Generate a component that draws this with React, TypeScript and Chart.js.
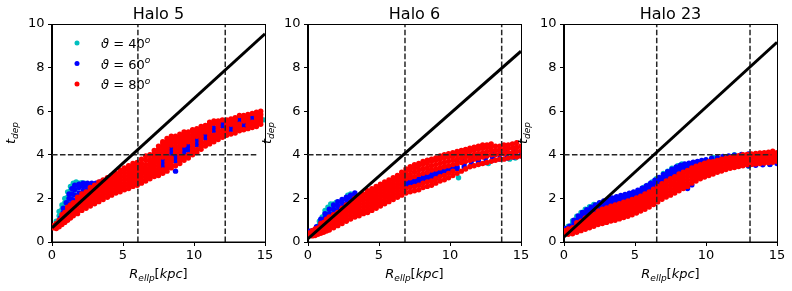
import React, { useEffect, useRef } from 'react';
import { Chart, registerables } from 'chart.js';
Chart.register(...registerables);

type Col = [number, number[]];

const panelTitles = ['Halo 5', 'Halo 6', 'Halo 23'];
const seriesAngles = ['40', '60', '80'];
const seriesColors = ['#00bfbf', '#0000ff', '#ff0000'];
const xTickStep = 5;
const yTickStep = 2;

// ---------- Halo 5 ----------
const halo5Cyan: Col[] = [
  [0.3, [0.8, 0.95]], [0.5, [1.0, 1.2, 1.4]], [0.7, [1.3, 1.5, 1.7]], [0.9, [1.6, 1.8, 2.0]],
  [1.1, [1.8, 2.05, 2.3]], [1.3, [2.1, 2.35, 2.55]], [1.5, [2.3, 2.5, 2.7]], [1.7, [2.45, 2.65, 2.75]],
  [1.9, [2.55, 2.7]], [2.1, [2.6, 2.72]], [2.3, [2.65, 2.7]],
  [9.3, [4.0]], [10.3, [4.3]], [11.6, [4.9]], [12.4, [5.0]], [13.4, [5.3]], [14.6, [5.5]], [14.9, [5.6]],
];
const halo5Blue: Col[] = [
  [0.6, [0.9, 1.1]], [0.8, [1.1, 1.35, 1.55]], [1.0, [1.3, 1.55, 1.8]], [1.2, [1.5, 1.75, 2.0, 2.2]],
  [1.4, [1.7, 1.95, 2.2, 2.45]], [1.6, [1.9, 2.15, 2.4, 2.6]], [1.9, [2.0, 2.25, 2.5, 2.65]],
  [2.2, [2.1, 2.35, 2.55, 2.7]], [2.5, [2.2, 2.45, 2.6, 2.7]], [2.8, [2.3, 2.5, 2.65, 2.7]],
  [3.1, [2.4, 2.55, 2.7]], [3.4, [2.5, 2.65, 2.75]], [3.7, [2.6, 2.8]],
  [5.6, [3.1]], [6.4, [3.3]],
  [7.8, [3.45, 3.6, 3.75]], [8.4, [4.0, 4.15, 4.3]], [8.7, [3.25, 3.7, 3.85, 3.95]],
  [9.3, [4.05, 4.2, 4.3]], [9.6, [4.2, 4.35, 4.45]], [10.2, [4.45, 4.6, 4.7]], [10.8, [4.75, 4.9]],
  [11.4, [5.1, 5.25]], [12.0, [5.3, 5.45]], [12.6, [5.15, 5.3]], [13.2, [5.55, 5.7]],
  [13.5, [5.3, 5.42]], [14.1, [5.6, 5.75]],
];
const halo5Red: Col[] = [
  [0.1, [0.65, 0.75]], [0.3, [0.62, 0.75, 0.85]], [0.5, [0.7, 0.85, 1.0]], [0.7, [0.8, 0.95, 1.1, 1.25]],
  [0.9, [0.9, 1.05, 1.2, 1.35]], [1.1, [1.0, 1.15, 1.3, 1.45, 1.6]], [1.3, [1.1, 1.25, 1.4, 1.55, 1.7]],
  [1.5, [1.2, 1.35, 1.5, 1.65, 1.8]], [1.8, [1.3, 1.45, 1.6, 1.75, 1.9, 2.05]],
  [2.1, [1.45, 1.6, 1.75, 1.9, 2.05, 2.2]], [2.4, [1.55, 1.7, 1.85, 2.0, 2.15, 2.3]],
  [2.7, [1.65, 1.8, 1.95, 2.1, 2.25, 2.4, 2.5]], [3.0, [1.75, 1.9, 2.05, 2.2, 2.35, 2.5, 2.6]],
  [3.3, [1.85, 2.0, 2.15, 2.3, 2.45, 2.6, 2.75]], [3.6, [1.95, 2.1, 2.25, 2.4, 2.55, 2.7, 2.85]],
  [3.9, [2.05, 2.2, 2.35, 2.5, 2.65, 2.8, 2.95]], [4.2, [2.15, 2.3, 2.45, 2.6, 2.75, 2.9, 3.05]],
  [4.5, [2.25, 2.4, 2.55, 2.7, 2.85, 3.0, 3.15]], [4.8, [2.3, 2.45, 2.6, 2.75, 2.9, 3.05, 3.2, 3.3]],
  [5.1, [2.4, 2.55, 2.7, 2.85, 3.0, 3.15, 3.3, 3.4]], [5.4, [2.45, 2.6, 2.75, 2.9, 3.05, 3.2, 3.35, 3.5]],
  [5.7, [2.55, 2.7, 2.85, 3.0, 3.15, 3.3, 3.45, 3.6]], [6.0, [2.6, 2.75, 2.9, 3.05, 3.2, 3.35, 3.5, 3.65]],
  [6.3, [2.7, 2.85, 3.0, 3.15, 3.3, 3.45, 3.6, 3.8]], [6.6, [2.8, 2.95, 3.1, 3.25, 3.4, 3.55, 3.75, 3.95]],
  [6.9, [2.9, 3.05, 3.2, 3.35, 3.5, 3.65, 3.8, 4.0]], [7.2, [3.0, 3.15, 3.3, 3.45, 3.6, 3.75, 3.9, 4.05, 4.2]],
  [7.5, [3.05, 3.2, 3.35, 3.5, 3.65, 3.8, 3.95, 4.1, 4.25, 4.4]],
  [7.8, [3.15, 3.3, 3.9, 4.05, 4.2, 4.35, 4.5, 4.6]],
  [8.1, [3.25, 3.4, 3.55, 3.7, 3.85, 4.0, 4.15, 4.3, 4.45, 4.6, 4.75]],
  [8.4, [3.4, 3.55, 3.7, 3.85, 4.45, 4.6, 4.75, 4.85]],
  [8.7, [3.5, 4.1, 4.25, 4.4, 4.55, 4.7, 4.85]],
  [9.0, [3.6, 3.75, 3.9, 4.05, 4.2, 4.35, 4.5, 4.65, 4.8, 4.95]],
  [9.3, [3.75, 3.9, 4.45, 4.6, 4.75, 4.9, 5.05]], [9.6, [3.85, 4.0, 4.6, 4.75, 4.9, 5.05]],
  [9.9, [4.0, 4.15, 4.3, 4.45, 4.6, 4.75, 4.9, 5.05, 5.15]], [10.2, [4.1, 4.25, 4.85, 5.0, 5.1, 5.2]],
  [10.5, [4.25, 4.4, 4.55, 4.7, 4.85, 5.0, 5.15, 5.3]], [10.8, [4.4, 4.55, 5.05, 5.2, 5.35]],
  [11.1, [4.5, 4.65, 4.8, 4.95, 5.1, 5.25, 5.4, 5.5]], [11.4, [4.6, 4.75, 4.9, 5.45, 5.55]],
  [11.7, [4.7, 4.85, 5.0, 5.15, 5.3, 5.45, 5.55]], [12.0, [4.8, 4.95, 5.1, 5.6]],
  [12.3, [4.9, 5.05, 5.2, 5.35, 5.5, 5.6]], [12.6, [4.95, 5.4, 5.55, 5.65]],
  [12.9, [5.0, 5.15, 5.3, 5.45, 5.6, 5.7]], [13.2, [5.1, 5.25, 5.4, 5.8]],
  [13.5, [5.15, 5.55, 5.7, 5.8]], [13.8, [5.2, 5.35, 5.5, 5.65, 5.8, 5.85]],
  [14.1, [5.25, 5.4, 5.5, 5.9]], [14.4, [5.3, 5.45, 5.6, 5.75, 5.9, 5.95]],
  [14.7, [5.4, 5.55, 5.7, 5.85, 6.0]],
];
const halo5Fit = [[0, 0.65], [15, 9.55]];
const halo5VLines = [6.05, 12.2];
const halo5HLineEnd = 14.5;

// ---------- Halo 6 ----------
const halo6Cyan: Col[] = [
  [0.8, [0.8, 0.95]], [1.0, [0.95, 1.15]], [1.2, [1.1, 1.3, 1.45]], [1.4, [1.25, 1.45, 1.6]],
  [1.6, [1.4, 1.6, 1.75]], [1.8, [1.55, 1.75]], [2.0, [1.65, 1.82]], [2.8, [2.0, 2.15]], [3.0, [2.1, 2.2]],
  [9.2, [3.0]], [10.6, [2.95]], [12.7, [3.6]], [14.2, [3.8]], [14.6, [3.85]],
];
const halo6Blue: Col[] = [
  [0.1, [0.35, 0.5]], [0.3, [0.4, 0.52]], [0.6, [0.55, 0.7]], [0.9, [0.75, 0.9, 1.05]],
  [1.2, [0.9, 1.1, 1.3]], [1.5, [1.1, 1.3, 1.5]], [1.8, [1.3, 1.5, 1.7]], [2.1, [1.45, 1.65, 1.85]],
  [2.4, [1.6, 1.8, 1.95]], [2.7, [1.75, 1.95, 2.05]], [3.0, [1.85, 2.05, 2.15]], [3.3, [1.95, 2.15, 2.25]],
  [6.9, [2.6, 2.75]], [7.2, [2.65, 2.8]], [7.5, [2.7, 2.85]], [7.8, [2.75, 2.9]], [8.1, [2.85, 3.0]],
  [8.4, [2.9, 3.05]], [8.7, [2.95, 3.1]], [9.0, [3.05, 3.2]], [9.3, [3.1, 3.25]], [9.6, [3.2, 3.3]],
  [9.9, [3.25, 3.4]], [10.2, [3.35, 3.45]], [10.5, [3.35, 3.45, 3.7]], [11.0, [3.45, 3.6, 3.8]],
  [11.5, [3.55, 3.7, 3.9]], [12.0, [3.6, 3.75, 3.95]], [12.5, [3.65, 3.85, 4.05]], [13.0, [3.75, 3.9, 4.1]],
  [13.5, [3.8, 4.0, 4.2]], [14.0, [3.85, 4.05, 4.25]], [14.5, [3.9, 4.1, 4.3]], [15.0, [3.95, 4.15]],
];
const halo6Red: Col[] = [
  [0.1, [0.3, 0.42]], [0.3, [0.28, 0.4, 0.52]], [0.5, [0.3, 0.45, 0.6]], [0.7, [0.35, 0.5, 0.65]],
  [0.9, [0.4, 0.55, 0.7, 0.85]], [1.1, [0.45, 0.6, 0.75, 0.9]], [1.3, [0.5, 0.65, 0.8, 0.95, 1.05]],
  [1.5, [0.55, 0.7, 0.85, 1.0, 1.15]], [1.8, [0.65, 0.8, 0.95, 1.1, 1.25]], [2.1, [0.75, 0.9, 1.05, 1.2, 1.35]],
  [2.4, [0.85, 1.0, 1.15, 1.3, 1.45, 1.55]], [2.7, [0.95, 1.1, 1.25, 1.4, 1.55, 1.7]],
  [3.0, [1.05, 1.2, 1.35, 1.5, 1.65, 1.8]], [3.3, [1.15, 1.3, 1.45, 1.6, 1.75, 1.9, 2.0]],
  [3.6, [1.2, 1.35, 1.5, 1.65, 1.8, 1.95, 2.1]], [3.9, [1.3, 1.45, 1.6, 1.75, 1.9, 2.05, 2.2]],
  [4.2, [1.35, 1.5, 1.65, 1.8, 1.95, 2.1, 2.25, 2.35]], [4.5, [1.45, 1.6, 1.75, 1.9, 2.05, 2.2, 2.35, 2.45]],
  [4.8, [1.55, 1.7, 1.85, 2.0, 2.15, 2.3, 2.45, 2.55]], [5.1, [1.65, 1.8, 1.95, 2.1, 2.25, 2.4, 2.55, 2.65]],
  [5.4, [1.75, 1.9, 2.05, 2.2, 2.35, 2.5, 2.65, 2.75]], [5.7, [1.85, 2.0, 2.15, 2.3, 2.45, 2.6, 2.75, 2.85]],
  [6.0, [1.95, 2.1, 2.25, 2.4, 2.55, 2.7, 2.85, 2.95]], [6.3, [2.05, 2.2, 2.35, 2.5, 2.65, 2.8, 2.95, 3.05]],
  [6.6, [2.15, 2.3, 2.45, 2.6, 2.75, 2.9, 3.05, 3.2]], [6.9, [2.25, 2.45, 2.9, 3.05, 3.2, 3.35]],
  [7.2, [2.3, 2.5, 2.95, 3.1, 3.3, 3.45]], [7.5, [2.35, 2.55, 3.0, 3.2, 3.4, 3.55]],
  [7.8, [2.4, 2.6, 3.1, 3.3, 3.5, 3.6]], [8.1, [2.5, 2.7, 3.15, 3.35, 3.55, 3.7]],
  [8.4, [2.55, 2.75, 3.2, 3.4, 3.6, 3.75]], [8.7, [2.6, 2.8, 3.3, 3.5, 3.7, 3.8]],
  [9.0, [2.7, 2.9, 3.35, 3.55, 3.75, 3.85]], [9.3, [2.8, 3.0, 3.4, 3.6, 3.8, 3.95]],
  [9.6, [2.85, 3.05, 3.45, 3.65, 3.85, 4.0]], [9.9, [2.95, 3.15, 3.5, 3.7, 3.9, 4.05]],
  [10.2, [3.05, 3.25, 3.55, 3.75, 3.95, 4.1]], [10.5, [3.15, 3.6, 3.8, 4.0, 4.15]],
  [10.8, [3.25, 3.65, 3.85, 4.05, 4.2]], [11.1, [3.35, 3.7, 3.9, 4.1, 4.25]],
  [11.4, [3.45, 3.75, 3.95, 4.15, 4.3]], [11.7, [3.5, 3.8, 4.0, 4.2, 4.35]],
  [12.0, [3.55, 3.85, 4.05, 4.25, 4.4]], [12.3, [3.6, 3.9, 4.1, 4.3, 4.45]],
  [12.6, [3.65, 3.95, 4.15, 4.35, 4.45]], [12.9, [3.7, 4.0, 4.2, 4.35, 4.5]],
  [13.2, [3.75, 4.0, 4.2, 4.4]], [13.5, [3.8, 4.05, 4.25, 4.4]], [13.8, [3.8, 4.05, 4.25, 4.45]],
  [14.1, [3.85, 4.1, 4.3, 4.45]], [14.4, [3.9, 4.1, 4.3, 4.5]], [14.7, [3.9, 4.15, 4.35, 4.55]],
  [15.0, [3.95, 4.2, 4.4]],
];
const halo6Fit = [[0, 0.15], [15, 8.75]];
const halo6VLines = [6.83, 13.64];
const halo6HLineEnd = 15;

// ---------- Halo 23 ----------
const halo23Cyan: Col[] = [
  [0.3, [0.72]], [0.6, [0.85, 0.98]], [0.9, [1.05, 1.18]], [1.2, [1.22, 1.35]], [1.5, [1.38, 1.5]],
  [1.8, [1.52, 1.62]], [2.1, [1.62, 1.72]], [2.4, [1.72]], [2.7, [1.8]],
  [5.6, [2.5]], [5.9, [2.6]], [6.2, [2.75]], [6.5, [2.9]], [7.0, [3.15]], [7.3, [3.25]], [7.6, [3.38]],
  [8.0, [3.5]], [8.3, [3.58]], [10.5, [3.88]], [12.0, [4.0]], [13.0, [3.48]], [14.5, [3.55]],
];
const halo23Blue: Col[] = [
  [0.1, [0.5, 0.62]], [0.4, [0.6, 0.72]], [0.7, [0.72, 0.88, 1.0]], [1.0, [0.9, 1.05, 1.2]],
  [1.3, [1.05, 1.2, 1.35]], [1.6, [1.18, 1.32, 1.48]], [1.9, [1.3, 1.45, 1.6]], [2.2, [1.4, 1.55, 1.7]],
  [2.5, [1.5, 1.65, 1.8]], [2.8, [1.6, 1.75, 1.88]], [3.1, [1.68, 1.82, 1.95]], [3.4, [1.76, 1.9, 2.02]],
  [3.7, [1.83, 1.97, 2.08]], [4.0, [1.9, 2.03, 2.13]], [4.3, [1.96, 2.08, 2.18]], [4.6, [2.02, 2.14, 2.24]],
  [4.9, [2.08, 2.2, 2.3]], [5.2, [2.14, 2.27, 2.38]], [5.5, [2.22, 2.35, 2.47]], [5.8, [2.32, 2.45, 2.58]],
  [6.1, [2.42, 2.56, 2.7]], [6.4, [2.54, 2.68, 2.84]], [6.7, [2.66, 2.8, 2.96]], [7.0, [2.8, 2.94, 3.1]],
  [7.3, [2.92, 3.06, 3.22]], [7.6, [3.02, 3.18, 3.34]], [7.9, [3.12, 3.28, 3.44]], [8.2, [3.2, 3.36, 3.52]],
  [8.5, [3.28, 3.44, 3.58]], [8.8, [3.36, 3.5, 3.62]], [9.1, [3.42, 3.56, 3.66]], [9.4, [3.48, 3.6, 3.7]],
  [9.7, [3.54, 3.65, 3.74]], [10.0, [3.58, 3.7, 3.78]], [10.4, [3.64, 3.75, 3.84]], [10.8, [3.7, 3.8, 3.88]],
  [11.2, [3.74, 3.84, 3.92]], [11.6, [3.78, 3.88, 3.95]], [12.0, [3.82, 3.92, 3.98]],
  [12.5, [3.86, 3.95, 4.02]], [13.0, [3.5, 3.62, 3.9, 3.98, 4.04]], [13.5, [3.52, 3.64, 3.92, 4.0]],
  [14.0, [3.54, 3.66, 3.94, 4.02]], [14.5, [3.56, 3.68, 3.96, 4.04]], [15.0, [3.6, 3.72, 3.98]],
  [8.7, [2.45]], [9.0, [2.62]],
];
const halo23Red: Col[] = [
  [0.1, [0.4, 0.52]], [0.3, [0.35, 0.48, 0.6]], [0.6, [0.38, 0.52, 0.66]], [0.9, [0.45, 0.6, 0.75, 0.88]],
  [1.2, [0.52, 0.66, 0.8, 0.95]], [1.5, [0.58, 0.72, 0.86, 1.0, 1.1]], [1.8, [0.65, 0.78, 0.92, 1.06, 1.2]],
  [2.1, [0.72, 0.85, 0.98, 1.12, 1.28]], [2.4, [0.8, 0.93, 1.06, 1.2, 1.33, 1.42]],
  [2.7, [0.85, 0.98, 1.11, 1.25, 1.38, 1.5]], [3.0, [0.9, 1.03, 1.16, 1.3, 1.43, 1.56]],
  [3.3, [0.96, 1.09, 1.22, 1.36, 1.5, 1.64]], [3.6, [1.0, 1.13, 1.26, 1.4, 1.54, 1.7]],
  [3.9, [1.06, 1.19, 1.32, 1.46, 1.6, 1.76]], [4.2, [1.12, 1.25, 1.38, 1.52, 1.66, 1.82]],
  [4.5, [1.18, 1.31, 1.44, 1.58, 1.72, 1.88]], [4.8, [1.25, 1.38, 1.51, 1.65, 1.8, 1.95]],
  [5.1, [1.33, 1.46, 1.59, 1.73, 1.87, 2.02]], [5.4, [1.42, 1.55, 1.68, 1.82, 1.96, 2.1]],
  [5.7, [1.5, 1.64, 1.78, 1.92, 2.06, 2.2]], [6.0, [1.6, 1.74, 1.88, 2.02, 2.16, 2.3]],
  [6.3, [1.72, 1.86, 2.0, 2.14, 2.28, 2.42]], [6.6, [1.84, 1.98, 2.12, 2.26, 2.4, 2.55]],
  [6.9, [1.96, 2.1, 2.24, 2.38, 2.52, 2.68]], [7.2, [2.06, 2.2, 2.34, 2.48, 2.62, 2.8]],
  [7.5, [2.15, 2.3, 2.45, 2.6, 2.75, 2.9]], [7.8, [2.25, 2.4, 2.55, 2.7, 2.85, 3.0]],
  [8.1, [2.35, 2.5, 2.65, 2.8, 2.95, 3.12]], [8.4, [2.45, 2.6, 2.75, 2.9, 3.05, 3.2]],
  [8.7, [2.55, 2.7, 2.85, 3.0, 3.15, 3.28]], [9.0, [2.7, 2.85, 3.0, 3.15, 3.3, 3.4]],
  [9.3, [2.8, 2.95, 3.1, 3.25, 3.4, 3.48]], [9.6, [2.9, 3.05, 3.2, 3.35, 3.5, 3.55]],
  [9.9, [2.98, 3.12, 3.26, 3.4, 3.55, 3.62]], [10.2, [3.05, 3.2, 3.35, 3.5, 3.62, 3.68]],
  [10.5, [3.12, 3.26, 3.4, 3.55, 3.68]], [10.8, [3.2, 3.34, 3.48, 3.62, 3.74]],
  [11.1, [3.26, 3.4, 3.54, 3.68, 3.8]], [11.4, [3.32, 3.46, 3.6, 3.72, 3.84]],
  [11.7, [3.38, 3.52, 3.65, 3.78, 3.88]], [12.0, [3.42, 3.56, 3.7, 3.82, 3.92]],
  [12.3, [3.46, 3.6, 3.74, 3.86, 3.96]], [12.6, [3.5, 3.64, 3.78, 3.9, 4.0]],
  [12.9, [3.54, 3.68, 3.82, 3.94, 4.02]], [13.2, [3.56, 3.7, 3.84, 3.96, 4.04]],
  [13.5, [3.58, 3.72, 3.86, 3.98, 4.06]], [13.8, [3.6, 3.74, 3.88, 4.0, 4.08]],
  [14.1, [3.62, 3.76, 3.9, 4.02, 4.1]], [14.4, [3.64, 3.78, 3.92, 4.04, 4.12]],
  [14.7, [3.66, 3.8, 3.94, 4.06, 4.16]], [15.0, [3.7, 3.84, 3.98, 4.1]],
];
const halo23Fit = [[0, 0.23], [15, 9.16]];
const halo23VLines = [6.53, 13.1];
const halo23HLineEnd = 14.6;

// ---------- layout ----------
const CANVAS_W = 280;
const CANVAS_H = 291;
const PLOT_LEFT = 52;
const PLOT_TOP = 24;
const PLOT_BOTTOM = 242;
const PLOT_W = 213;
const PANEL_STEP = 256;
const FONT = '"DejaVu Sans", "Liberation Sans", sans-serif';

interface PanelSpec {
  title: string;
  cyan: Col[];
  blue: Col[];
  red: Col[];
  fit: number[][];
  vlines: number[];
  hEnd: number;
  legend: boolean;
}

const panels: PanelSpec[] = [
  { title: panelTitles[0], cyan: halo5Cyan, blue: halo5Blue, red: halo5Red, fit: halo5Fit, vlines: halo5VLines, hEnd: halo5HLineEnd, legend: true },
  { title: panelTitles[1], cyan: halo6Cyan, blue: halo6Blue, red: halo6Red, fit: halo6Fit, vlines: halo6VLines, hEnd: halo6HLineEnd, legend: false },
  { title: panelTitles[2], cyan: halo23Cyan, blue: halo23Blue, red: halo23Red, fit: halo23Fit, vlines: halo23VLines, hEnd: halo23HLineEnd, legend: false },
];

function expand(cols: Col[]) {
  return cols.flatMap(([x, ys]) => ys.map((y) => ({ x, y })));
}

type Part = { t: string; italic?: boolean; size: number; dy: number };

function drawRich(ctx: CanvasRenderingContext2D, parts: Part[], x: number, y: number, align: 'left' | 'center') {
  const widths = parts.map((p) => {
    ctx.font = `${p.italic ? 'italic ' : ''}${p.size}px ${FONT}`;
    return ctx.measureText(p.t).width;
  });
  const total = widths.reduce((a, b) => a + b, 0);
  let cx = align === 'center' ? x - total / 2 : x;
  ctx.textAlign = 'left';
  ctx.textBaseline = 'alphabetic';
  parts.forEach((p, i) => {
    ctx.font = `${p.italic ? 'italic ' : ''}${p.size}px ${FONT}`;
    ctx.fillText(p.t, cx, y + p.dy);
    cx += widths[i];
  });
}

function makeDecor(spec: PanelSpec) {
  return {
    id: 'decor',
    afterDatasetsDraw(chart: any) {
      const { ctx, chartArea: a } = chart;
      ctx.save();
      ctx.strokeStyle = '#000';
      ctx.lineWidth = 1;
      ctx.strokeRect(Math.round(a.left) - 0.5, Math.round(a.top) + 0.5, Math.round(a.right - a.left) + 1, Math.round(a.bottom - a.top) - 0.5);
      ctx.restore();
    },
    afterDraw(chart: any) {
      const { ctx, chartArea: a } = chart;
      const cx = (a.left + a.right) / 2;
      ctx.save();
      ctx.fillStyle = '#000';
      ctx.font = `16px ${FONT}`;
      ctx.textAlign = 'center';
      ctx.textBaseline = 'alphabetic';
      ctx.fillText(spec.title, cx, 18.5);
      drawRich(ctx, [
        { t: 'R', italic: true, size: 13, dy: 0 },
        { t: 'ellp', italic: true, size: 9, dy: 3 },
        { t: '[', size: 13, dy: 0 },
        { t: 'kpc', italic: true, size: 13, dy: 0 },
        { t: ']', size: 13, dy: 0 },
      ], cx, 278, 'center');
      ctx.save();
      ctx.translate(a.left - 37, (a.top + a.bottom) / 2);
      ctx.rotate(-Math.PI / 2);
      drawRich(ctx, [
        { t: 't', italic: true, size: 13, dy: 0 },
        { t: 'dep', italic: true, size: 9, dy: 3 },
      ], 0, 0, 'center');
      ctx.restore();
      if (spec.legend) {
        const rows = [43, 63.5, 84];
        rows.forEach((ry, i) => {
          ctx.fillStyle = seriesColors[i];
          ctx.beginPath();
          ctx.arc(77, ry, 2.5, 0, Math.PI * 2);
          ctx.fill();
          ctx.fillStyle = '#000';
          drawRich(ctx, [
            { t: '\u03D1', italic: true, size: 13, dy: 0 },
            { t: ' = ' + seriesAngles[i], size: 13, dy: 0 },
            { t: 'o', italic: true, size: 9, dy: -5.5 },
          ], 101, ry + 5, 'left');
        });
      }
      ctx.restore();
    },
  };
}

function Panel({ spec, left }: { spec: PanelSpec; left: number }) {
  const ref = useRef<HTMLCanvasElement>(null);
  useEffect(() => {
    const canvas = ref.current!;
    const dashed = {
      borderColor: '#262626',
      borderWidth: 1.5,
      borderDash: [5.55, 2.4],
      pointRadius: 0,
      showLine: true,
      fill: false,
      order: 0,
    };
    const datasets: any[] = [
      {
        data: spec.fit.map(([x, y]) => ({ x, y })),
        borderColor: '#000',
        borderWidth: 3,
        pointRadius: 0,
        showLine: true,
        fill: false,
        order: 0,
      },
      ...spec.vlines.map((v) => ({ ...dashed, data: [{ x: v, y: 0 }, { x: v, y: 10 }] })),
      { ...dashed, data: [{ x: 0, y: 4 }, { x: spec.hEnd, y: 4 }] },
      { data: expand(spec.red), backgroundColor: seriesColors[2], pointRadius: 2.7, borderWidth: 0, order: 1 },
      { data: expand(spec.blue), backgroundColor: seriesColors[1], pointRadius: 2.7, borderWidth: 0, order: 2 },
      { data: expand(spec.cyan), backgroundColor: seriesColors[0], pointRadius: 2.7, borderWidth: 0, order: 3 },
    ];
    const tickFont = { family: FONT, size: 13 };
    const chart = new Chart(canvas, {
      type: 'scatter',
      data: { datasets },
      options: {
        responsive: false,
        animation: false,
        devicePixelRatio: 1,
        events: [],
        layout: { padding: { top: PLOT_TOP, right: CANVAS_W - PLOT_LEFT - PLOT_W, left: 0, bottom: 0 } },
        plugins: { legend: { display: false }, tooltip: { enabled: false }, title: { display: false } },
        scales: {
          x: {
            type: 'linear',
            min: 0,
            max: 15,
            afterFit: (s: any) => { s.height = CANVAS_H - PLOT_BOTTOM; },
            ticks: { stepSize: xTickStep, font: tickFont, color: '#000', padding: 2, maxRotation: 0, autoSkip: false },
            grid: { drawOnChartArea: false, drawTicks: true, tickLength: 4, color: '#000', lineWidth: 1 },
            border: { display: true, color: '#000', width: 1 },
          },
          y: {
            type: 'linear',
            min: 0,
            max: 10,
            afterFit: (s: any) => { s.width = PLOT_LEFT; },
            ticks: { stepSize: yTickStep, font: tickFont, color: '#000', padding: 3.5, autoSkip: false },
            grid: { drawOnChartArea: false, drawTicks: true, tickLength: 4, color: '#000', lineWidth: 1 },
            border: { display: true, color: '#000', width: 1 },
          },
        },
      } as any,
      plugins: [makeDecor(spec)],
    });
    return () => chart.destroy();
  }, [spec]);
  return (
    <canvas
      ref={ref}
      width={CANVAS_W}
      height={CANVAS_H}
      style={{ position: 'absolute', left, top: 0, width: CANVAS_W, height: CANVAS_H }}
    />
  );
}

export default function App() {
  return (
    <div style={{ position: 'fixed', left: 0, top: 0, width: 792, height: 291, background: '#fff', overflow: 'hidden' }}>
      {panels.map((p, i) => (
        <Panel key={p.title} spec={p} left={i * PANEL_STEP} />
      ))}
    </div>
  );
}
